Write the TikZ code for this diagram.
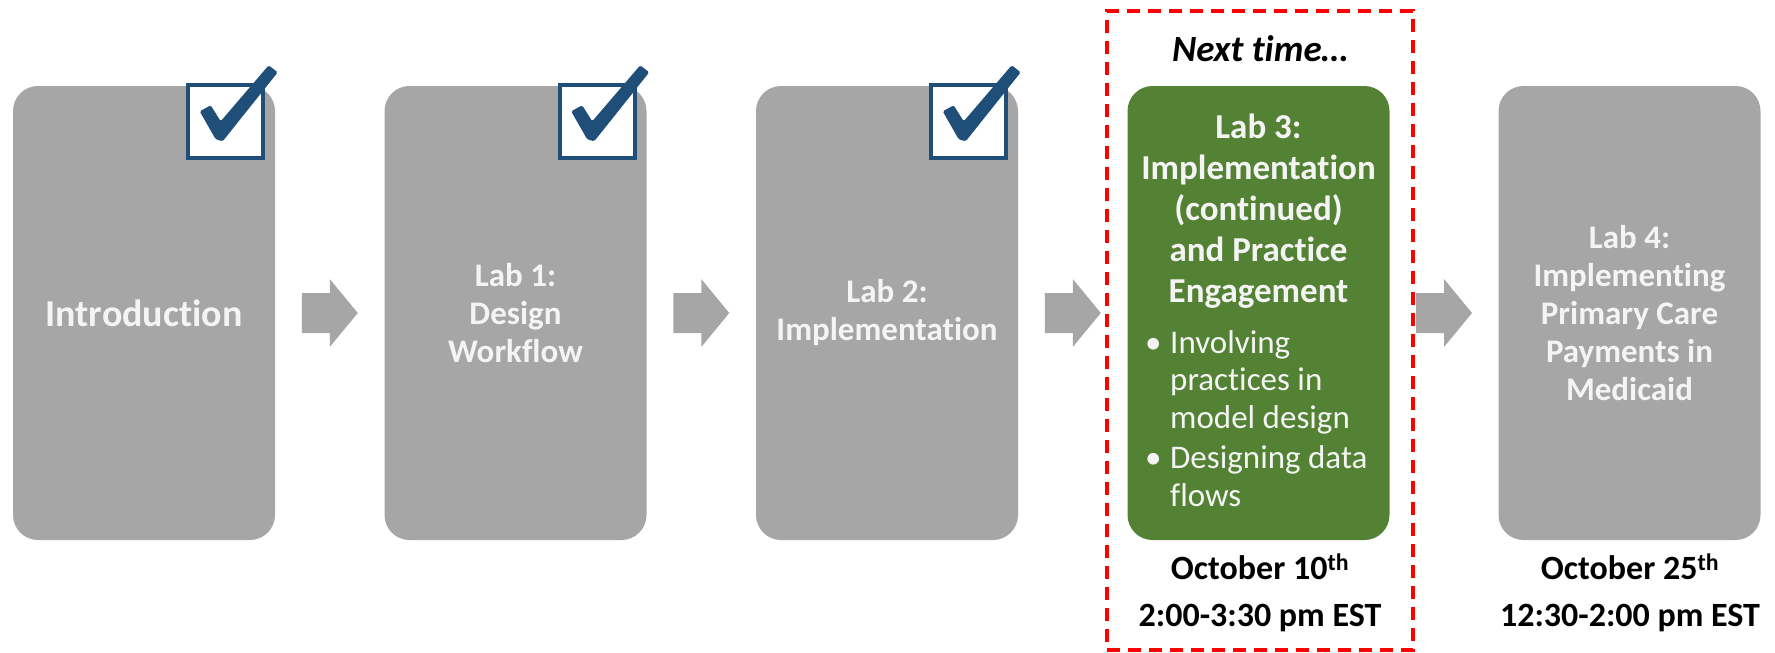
\documentclass[tikz,border=0pt]{standalone}
\usepackage{fontspec}
\setmainfont{Carlito}[Ligatures={NoCommon}]
\usetikzlibrary{calc}
\definecolor{boxgray}{HTML}{A6A6A6}
\definecolor{labgreen}{HTML}{548235}
\definecolor{navy}{HTML}{1F4E79}
\definecolor{txtw}{HTML}{F4F4F4}
\begin{document}
\begin{tikzpicture}[x=1pt,y=-1pt,
  stage/.style={rectangle, rounded corners=25pt, fill=boxgray, minimum width=262pt, minimum height=454pt, inner sep=0pt, text=txtw, font=\fontsize{33}{38}\selectfont\bfseries, align=center},
  greenstage/.style={stage, fill=labgreen},
  chkbox/.style={rectangle, draw=navy, fill=white, line width=4pt, minimum width=75pt, minimum height=73pt, inner sep=0pt},
  chkmark/.style={fill=navy, rounded corners=1.5pt},
  flowarrow/.style={fill=boxgray},
  datetxt/.style={font=\fontsize{34}{47}\selectfont\bfseries, align=center, text=black, inner sep=0pt},
  nextbox/.style={rectangle, draw=red, line width=4pt, dash pattern=on 13pt off 8pt, minimum width=306pt, minimum height=639pt, inner sep=0pt}
]
\useasboundingbox (0,0) rectangle (1775,653);

% stages
\node[stage, font=\fontsize{38}{40}\selectfont\bfseries] (b1) at (144,313) {Introduction};
\node[stage] (b2) at (515.5,313) {Lab 1:\\Design\\Workflow};
\node[stage] (b3) at (887,313) {Lab 2:\\Implementation};
\node[greenstage] (b4) at (1258.5,313) {};
\node[stage] (b5) at (1629.5,313) {Lab 4:\\Implementing\\Primary Care\\Payments in\\Medicaid};

% green box contents
\node[anchor=north, align=center, inner sep=0pt, text=txtw, font=\fontsize{35}{41}\selectfont\bfseries] (h4) at (1258.5,114) {Lab 3:\\Implementation\\(continued)\\and Practice\\Engagement};
\node[anchor=north west, align=left, inner sep=0pt, text=txtw, font=\fontsize{33}{37.5}\selectfont] (l4) at (1145,330) {\makebox[25pt][l]{•}Involving\\\hspace*{25pt}practices in\\\hspace*{25pt}model design\\[3pt]\makebox[25pt][l]{•}Designing data\\\hspace*{25pt}flows};

% next time frame
\node[nextbox] (nt) at (1260,330.5) {};
\node[font=\fontsize{37}{40}\selectfont\bfseries\itshape, inner sep=0pt] (ntl) at (1260,49) {Next time…};

% dates
\node[datetxt] (d4) at (1260,593) {October 10\textsuperscript{th}\\2:00-3:30 pm EST};
\node[datetxt] (d5) at (1630,593) {October 25\textsuperscript{th}\\12:30-2:00 pm EST};

% arrows between stages
\foreach \a/\b in {b1/b2,b2/b3,b3/b4,b4/b5}{
  \fill[flowarrow] ($(\a.east)!0.5!(\b.west)$) ++(-28,-20) -- ++(28,0) -- ++(0,-14) -- ++(28,34) -- ++(-28,34) -- ++(0,-14) -- ++(-28,0) -- cycle;
}

% check boxes
\foreach \b/\n in {b1/c1,b2/c2,b3/c3}{
  \node[chkbox] (\n) at ($(\b.north east)+(-49.5,35.5)$) {};
  \fill[chkmark, shift={(\n.center)}] (-26,-10) -- (-15,-16) -- (-5,0) -- (43,-56) -- (52,-49) -- (-3,20) -- (-10,18) -- cycle;
}
\end{tikzpicture}
\end{document}
